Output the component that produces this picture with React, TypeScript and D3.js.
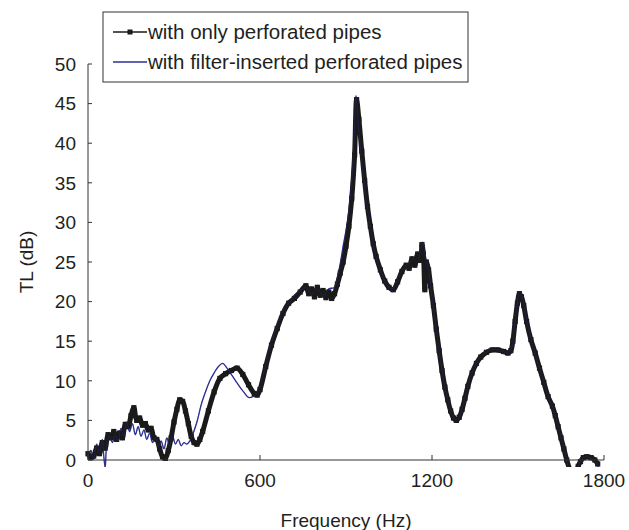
import React from 'react';
import * as d3 from 'd3';

const W = 629;
const H = 530;

const xTickValues = [0, 600, 1200, 1800];
const yTickValues = [0, 5, 10, 15, 20, 25, 30, 35, 40, 45, 50];

const seriesNames = ['with only perforated pipes', 'with filter-inserted perforated pipes'];

const freqOnly = [
  0, 10, 20, 30, 40, 50, 60, 70, 80, 90, 100, 110, 120, 130, 140, 150, 160, 170, 180, 190,
  200, 210, 220, 230, 240, 250, 260, 270, 280, 290, 300, 310, 320, 330, 340, 350, 360, 370, 380, 390,
  400, 420, 440, 460, 480, 500, 520, 540, 560, 580, 590, 600, 620, 640, 660, 680, 700, 720, 740, 760,
  770, 780, 790, 800, 810, 820, 830, 840, 850, 860, 870, 880, 890, 900, 910, 920, 930, 937, 945, 955,
  965, 975, 985, 995, 1005, 1020, 1035, 1050, 1065, 1080, 1095, 1110, 1120, 1130, 1140, 1150, 1160, 1165, 1170, 1175,
  1180, 1188, 1195, 1205, 1215, 1225, 1235, 1245, 1255, 1265, 1275, 1285, 1295, 1305, 1315, 1325, 1340, 1355, 1370, 1390,
  1410, 1430, 1450, 1465, 1475, 1482, 1490, 1498, 1505, 1512, 1520, 1530, 1545, 1560, 1575, 1590, 1605, 1620, 1630, 1640,
  1650, 1660, 1670, 1680, 1695, 1710, 1718, 1728, 1740, 1755, 1768, 1778,
];
const tlOnly = [
  0.8, 0.3, 0.5, 1.5, 0.8, 2.2, 1.5, 3.2, 2.8, 3.6, 2.6, 3.4, 2.8, 4.5, 4.2, 5.6, 6.6, 5.0, 5.3, 4.4,
  4.6, 3.8, 4.0, 2.8, 2.6, 1.4, 0.4, 0.2, 1.2, 2.8, 4.8, 6.4, 7.6, 7.4, 6.2, 4.6, 3.0, 2.2, 2.0, 2.6,
  3.6, 6.2, 8.6, 10.3, 10.9, 11.3, 11.6, 10.8, 9.5, 8.4, 8.2, 8.9, 11.8, 14.5, 16.6, 18.5, 19.8, 20.4, 21.2, 22.0,
  21.0, 21.6, 20.6, 21.8, 20.8, 21.4, 20.5, 21.2, 20.4, 21.0, 22.2, 23.6, 25.0, 27.0, 29.5, 33.0, 38.5, 45.5, 43.0, 39.0,
  35.3, 32.0, 29.5, 27.3, 25.7, 24.0, 22.6, 21.8, 21.5, 22.5, 23.8, 24.6, 24.2, 25.4, 24.6, 26.0, 25.2, 27.2, 26.0, 21.5,
  25.0, 24.0, 22.0, 19.5, 16.5, 13.8, 11.3, 9.2, 7.6, 6.2, 5.3, 5.0, 5.4, 6.4, 7.8, 9.3, 11.0, 12.2, 13.0, 13.6,
  13.9, 13.9, 13.7, 13.5, 13.8, 15.0, 17.5, 19.8, 21.0, 20.6, 19.5, 17.5, 15.2, 13.5, 11.6, 9.8, 8.0, 6.8, 5.6, 4.2,
  2.8, 1.4, 0.0, -1.2, -3.0, -0.8, -0.2, 0.3, 0.4, 0.3, 0.0, -0.5,
];

const freqFilter = [
  0, 10, 20, 30, 40, 50, 55, 60, 65, 75, 85, 95, 105, 115, 125, 135, 145, 155, 165, 175,
  185, 195, 205, 215, 225, 235, 245, 255, 265, 275, 285, 295, 305, 315, 325, 335, 345, 355, 365, 380,
  395, 410, 425, 440, 455, 470, 485, 500, 515, 530, 545, 560, 575, 590, 600, 620, 640, 660, 680, 700,
  720, 740, 760, 780, 800, 820, 840, 860, 870, 880, 890, 900, 910, 920, 928, 935, 942, 950, 960, 970,
  980, 990, 1000, 1015, 1030, 1045, 1060, 1075, 1090, 1105, 1120, 1135, 1150, 1160, 1168, 1178, 1190, 1200, 1210, 1220,
  1230, 1240, 1250, 1260, 1270, 1280, 1290, 1300, 1310, 1320, 1335, 1350, 1365, 1385, 1405, 1425, 1445, 1465, 1478, 1488,
  1496, 1504, 1512, 1520, 1535, 1550, 1565, 1580, 1595, 1610, 1625, 1640, 1655, 1668, 1680, 1700, 1712, 1720, 1735, 1750,
  1765, 1775, 1782,
];
const tlFilter = [
  0.5, 1.2, 0.2, 2.0, 1.0, 2.6, 0.5, -1.0, 1.8, 3.0, 2.2, 3.2, 2.4, 4.0, 3.0, 4.8, 3.6, 4.6, 3.2, 4.2,
  3.0, 3.8, 2.6, 3.4, 2.2, 2.8, 1.6, 2.4, 1.4, 2.8, 1.8, 3.0, 2.0, 2.6, 1.8, 2.2, 2.0, 2.4, 3.2, 4.8,
  7.0, 8.6, 10.0, 11.0, 11.8, 12.2, 11.6, 10.8, 10.0, 9.2, 8.5, 7.9, 8.0, 8.4, 9.2, 12.0, 14.8, 17.0, 18.8, 19.8,
  20.8, 21.4, 21.8, 21.0, 21.5, 20.8, 21.6, 21.8, 23.0, 24.8, 27.0, 29.0, 31.5, 35.5, 40.0, 46.0, 43.0, 39.5, 36.0, 33.0,
  30.5, 28.2, 26.3, 24.4, 23.0, 22.0, 21.6, 22.4, 23.6, 24.4, 24.8, 25.4, 25.0, 26.5, 27.5, 25.5, 23.5, 20.5, 18.0, 15.0,
  12.5, 10.2, 8.4, 6.9, 5.8, 5.1, 5.1, 5.9, 7.1, 8.6, 10.6, 11.9, 12.8, 13.5, 13.9, 13.9, 13.7, 13.5, 14.2, 17.0,
  19.5, 21.0, 20.8, 19.6, 16.8, 14.6, 12.8, 11.0, 9.3, 7.6, 6.2, 4.3, 2.2, 0.2, -1.5, -3.0, -0.8, 0.0, 0.4, 0.3,
  0.0, -0.5, -1.0,
];

const FONT = "'Liberation Sans', Arial, sans-serif";
const TEXT = '#231f20';
const BLUE = '#2b2f94';

export default function App() {
  const x = d3.scaleLinear().domain([0, 1800]).range([88, 604]);
  const y = d3.scaleLinear().domain([0, 50]).range([460, 64]);

  const onlyData: [number, number][] = freqOnly.map((f, i) => [f, tlOnly[i]]);
  const filterData: [number, number][] = freqFilter.map((f, i) => [f, tlFilter[i]]);

  const line = d3
    .line<[number, number]>()
    .x((d) => x(d[0]))
    .y((d) => y(d[1]))
    .curve(d3.curveCatmullRom.alpha(0.5));

  const [x0, x1] = x.range();
  const [yb, yt] = y.range();

  return (
    <div style={{ position: 'absolute', left: 0, top: 0 }}>
      <svg width={W} height={H} style={{ display: 'block', background: '#fff' }} fontFamily={FONT}>
        <defs>
          <clipPath id="plotClip">
            <rect x={x0 - 6} y={yt - 10} width={x1 - x0 + 14} height={yb - yt + 17} />
          </clipPath>
        </defs>

        <g clipPath="url(#plotClip)">
          <path d={line(filterData) || ''} fill="none" stroke={BLUE} strokeWidth={1.3} />
          <path
            d={line(onlyData) || ''}
            fill="none"
            stroke="#1a1a1a"
            strokeWidth={5}
            strokeLinejoin="round"
          />
          {onlyData.map((d, i) => (
            <rect key={i} x={x(d[0]) - 2.6} y={y(d[1]) - 2.6} width={5.2} height={5.2} fill="#1a1a1a" />
          ))}
          <path d={line(filterData) || ''} fill="none" stroke={BLUE} strokeWidth={1} strokeOpacity={0.35} />
        </g>

        {/* axes */}
        <line x1={x0} x2={x0} y1={yt} y2={yb} stroke="#333" strokeWidth={1} />
        <line x1={x0} x2={x1} y1={yb} y2={yb} stroke="#333" strokeWidth={1} />
        {yTickValues.map((v) => (
          <g key={'y' + v}>
            <line x1={x0} x2={x0 + 4} y1={y(v)} y2={y(v)} stroke="#333" strokeWidth={1} />
            <text x={x0 - 12} y={y(v)} dy="0.36em" textAnchor="end" fontSize={19} fill={TEXT}>
              {v}
            </text>
          </g>
        ))}
        {xTickValues.map((v) => (
          <g key={'x' + v}>
            <line x1={x(v)} x2={x(v)} y1={yb} y2={yb - 5} stroke="#333" strokeWidth={1} />
            <text x={x(v)} y={yb + 27} textAnchor="middle" fontSize={19} fill={TEXT}>
              {v}
            </text>
          </g>
        ))}
        <text x={(x0 + x1) / 2} y={527} textAnchor="middle" fontSize={19} fill={TEXT}>
          Frequency (Hz)
        </text>
        <text
          transform={`translate(26, ${(yt + yb) / 2}) rotate(-90)`}
          textAnchor="middle"
          fontSize={19}
          fill={TEXT}
          dy="0.36em"
        >
          TL (dB)
        </text>

        {/* legend */}
        <rect x={103} y={12} width={365} height={70} fill="#fff" stroke="#333" strokeWidth={1} />
        <line x1={113} x2={147} y1={32} y2={32} stroke="#1a1a1a" strokeWidth={1.3} />
        <rect x={127.5} y={29.5} width={5} height={5} fill="#1a1a1a" />
        <text x={148} y={32} dy="0.36em" fontSize={20.5} fill={TEXT}>
          {seriesNames[0]}
        </text>
        <line x1={113} x2={147} y1={62} y2={62} stroke={BLUE} strokeWidth={1.3} />
        <text x={148} y={62} dy="0.36em" fontSize={20.5} fill={TEXT}>
          {seriesNames[1]}
        </text>
      </svg>
    </div>
  );
}
